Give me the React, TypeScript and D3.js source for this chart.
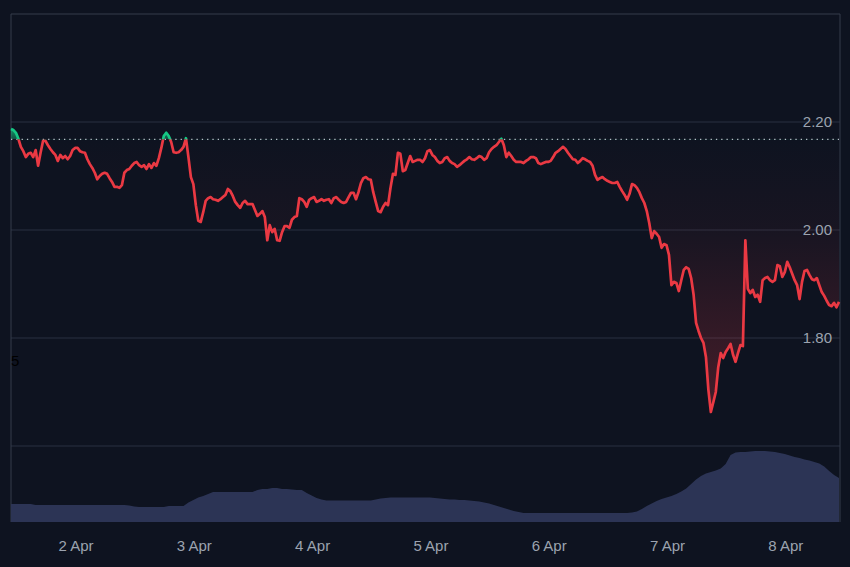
import React from "react";
import * as d3 from "d3";

// price sampled every 30 min, volume every hour; both start 1 Apr 10:48 UTC
const START_UTC = Date.UTC(2025, 3, 1, 10, 48);
const PRICE_STEP_MS = 30 * 60 * 1000;
const VOLUME_STEP_MS = 60 * 60 * 1000;

const prices: number[] = [
  2.187, 2.185, 2.180, 2.169, 2.154, 2.146, 2.135, 2.141, 2.143, 2.135,
  2.148, 2.119, 2.143, 2.165, 2.165, 2.157, 2.150, 2.144, 2.139, 2.128,
  2.139, 2.133, 2.137, 2.131, 2.137, 2.148, 2.152, 2.152, 2.146, 2.144,
  2.143, 2.131, 2.122, 2.115, 2.106, 2.094, 2.100, 2.104, 2.106, 2.104,
  2.096, 2.089, 2.080, 2.080, 2.078, 2.083, 2.106, 2.111, 2.113, 2.119,
  2.124, 2.126, 2.120, 2.117, 2.120, 2.113, 2.122, 2.115, 2.124, 2.119,
  2.133, 2.152, 2.174, 2.180, 2.174, 2.163, 2.144, 2.143, 2.144, 2.148,
  2.154, 2.170, 2.135, 2.098, 2.085, 2.046, 2.017, 2.015, 2.033, 2.054,
  2.059, 2.061, 2.057, 2.056, 2.054, 2.057, 2.061, 2.065, 2.076, 2.072,
  2.063, 2.052, 2.046, 2.041, 2.050, 2.054, 2.048, 2.048, 2.048, 2.037,
  2.026, 2.030, 2.035, 2.024, 1.981, 2.009, 1.996, 2.002, 1.981, 1.980,
  1.996, 2.007, 2.007, 2.004, 2.019, 2.024, 2.026, 2.059, 2.057, 2.052,
  2.043, 2.056, 2.059, 2.061, 2.052, 2.054, 2.057, 2.054, 2.056, 2.057,
  2.050, 2.059, 2.061, 2.056, 2.052, 2.050, 2.052, 2.061, 2.069, 2.069,
  2.057, 2.070, 2.087, 2.096, 2.098, 2.094, 2.093, 2.070, 2.052, 2.035,
  2.033, 2.043, 2.050, 2.046, 2.078, 2.104, 2.102, 2.143, 2.141, 2.109,
  2.111, 2.124, 2.137, 2.126, 2.128, 2.130, 2.130, 2.126, 2.133, 2.146,
  2.148, 2.139, 2.135, 2.128, 2.124, 2.126, 2.133, 2.135, 2.128, 2.124,
  2.122, 2.117, 2.120, 2.124, 2.128, 2.131, 2.135, 2.131, 2.130, 2.133,
  2.137, 2.135, 2.130, 2.133, 2.144, 2.150, 2.154, 2.157, 2.163, 2.169,
  2.157, 2.135, 2.143, 2.137, 2.130, 2.126, 2.126, 2.126, 2.124, 2.128,
  2.131, 2.135, 2.135, 2.133, 2.124, 2.122, 2.124, 2.126, 2.126, 2.128,
  2.135, 2.143, 2.146, 2.150, 2.154, 2.150, 2.143, 2.137, 2.131, 2.130,
  2.124, 2.128, 2.133, 2.131, 2.128, 2.126, 2.119, 2.102, 2.093, 2.096,
  2.098, 2.094, 2.091, 2.089, 2.087, 2.087, 2.089, 2.080, 2.072, 2.065,
  2.056, 2.067, 2.085, 2.083, 2.078, 2.070, 2.059, 2.050, 2.035, 2.013,
  1.985, 1.998, 1.993, 1.987, 1.967, 1.974, 1.972, 1.954, 1.898, 1.904,
  1.902, 1.887, 1.907, 1.926, 1.931, 1.928, 1.911, 1.880, 1.828, 1.813,
  1.800, 1.791, 1.765, 1.704, 1.663, 1.681, 1.700, 1.746, 1.772, 1.763,
  1.774, 1.781, 1.789, 1.769, 1.756, 1.772, 1.787, 1.785, 1.981, 1.891,
  1.883, 1.889, 1.876, 1.880, 1.867, 1.907, 1.911, 1.913, 1.907, 1.904,
  1.907, 1.935, 1.933, 1.913, 1.922, 1.941, 1.931, 1.919, 1.907, 1.898,
  1.872, 1.904, 1.924, 1.926, 1.917, 1.909, 1.907, 1.911, 1.898, 1.885,
  1.878, 1.869, 1.861, 1.859, 1.865, 1.857, 1.867,
];

const volumes: number[] = [
  18, 18, 18, 18, 18, 17, 17, 17, 17, 17,
  17, 17, 17, 17, 17, 17, 17, 17, 17, 17,
  17, 17, 17, 17, 16.5, 15.5, 15, 15, 15, 15,
  15, 15, 16, 16, 16, 16, 19.5, 22, 24.5, 26,
  28, 30, 30, 30, 30, 30, 30, 30, 30, 30,
  32, 33, 33, 34, 34, 33, 33, 32.5, 32, 32,
  29, 26.5, 24, 22.5, 21.5, 21.5, 21.5, 21.5, 21.5, 21.5,
  21.5, 21.5, 21.5, 21.5, 22.5, 23.5, 24, 24.5, 24.5, 24.5,
  24.5, 24.5, 24.5, 24.5, 24.5, 24.5, 24, 23.5, 23, 22.5,
  22.5, 22, 22, 21.5, 21, 20.5, 19.5, 18.5, 17, 15.5,
  14, 12.5, 11, 10, 9, 9, 9, 9, 9, 9,
  9, 9, 9, 9, 9, 9, 9, 9, 9, 9,
  9, 9, 9, 9, 9, 9, 9.5, 10.5, 13, 16,
  18.5, 21, 23, 24.5, 26, 28, 30.5, 33.5, 38, 42.5,
  46, 48.5, 50, 51.5, 53.5, 58, 67, 69.5, 70, 70,
  70.5, 71, 71, 71, 70.5, 70, 69, 68, 66.5, 65,
  64, 62.5, 61.5, 60, 58.5, 55.5, 51, 47, 44,
];

const BASELINE = 2.168;
const gridTicks = [1.6, 1.8, 2.0, 2.2];
const labelTicks = [1.8, 2.0, 2.2];

const W = 850;
const H = 567;
const BG = "#0e1320";
const RED = "#ea3943";
const GREEN = "#16c784";
const FONT = "'Liberation Sans', Arial, Helvetica, sans-serif";

export default function App() {
  const pTimes = prices.map((_, i) => new Date(START_UTC + i * PRICE_STEP_MS));
  const vTimes = volumes.map((_, i) => new Date(START_UTC + i * VOLUME_STEP_MS));
  const x = d3.scaleUtc().domain([pTimes[0], pTimes[pTimes.length - 1]]).range([11, 839]);
  const y = d3.scaleLinear().domain([1.6, 2.4]).range([446, 14]);
  const yv = d3.scaleLinear().domain([0, 100]).range([522, 422]);
  const yBase = y(BASELINE);

  const pIdx = d3.range(prices.length);
  const vIdx = d3.range(volumes.length);
  const line = d3.line<number>().x((i) => x(pTimes[i])).y((i) => y(prices[i]));
  const fill = d3
    .area<number>()
    .x((i) => x(pTimes[i]))
    .y0(yBase)
    .y1((i) => y(prices[i]));
  const volArea = d3
    .area<number>()
    .x((i) => x(vTimes[i]))
    .y0(yv(0))
    .y1((i) => yv(volumes[i]));

  const days = d3.utcDays(pTimes[0], pTimes[pTimes.length - 1]);
  const fmt = d3.utcFormat("%-d %b");
  const yMin = y(d3.min(prices) as number);
  const yMax = y(d3.max(prices) as number);

  return (
    <svg
      width={W}
      height={H}
      style={{ position: "absolute", left: 0, top: 0, display: "block" }}
    >
      <defs>
        <clipPath id="above">
          <rect x={0} y={0} width={W} height={yBase} />
        </clipPath>
        <clipPath id="below">
          <rect x={0} y={yBase} width={W} height={H - yBase} />
        </clipPath>
        <linearGradient id="redFill" gradientUnits="userSpaceOnUse" x1={0} y1={yBase} x2={0} y2={yMin}>
          <stop offset="0" stopColor={RED} stopOpacity={0} />
          <stop offset="0.35" stopColor={RED} stopOpacity={0.05} />
          <stop offset="1" stopColor={RED} stopOpacity={0.26} />
        </linearGradient>
        <linearGradient id="greenFill" gradientUnits="userSpaceOnUse" x1={0} y1={yBase} x2={0} y2={yMax}>
          <stop offset="0" stopColor={GREEN} stopOpacity={0.35} />
          <stop offset="1" stopColor={GREEN} stopOpacity={0.7} />
        </linearGradient>
      </defs>
      <rect x={0} y={0} width={W} height={H} fill={BG} />

      {gridTicks.map((t) => (
        <line key={t} x1={11} x2={840} y1={y(t)} y2={y(t)} stroke="#283040" strokeWidth={1} />
      ))}
      <line x1={11} x2={840} y1={14} y2={14} stroke="#343c4b" strokeWidth={1} />
      <line x1={11} x2={11} y1={14} y2={522} stroke="#343c4b" strokeWidth={1} />
      <line x1={840} x2={840} y1={14} y2={522} stroke="#343c4b" strokeWidth={1} />

      <path d={volArea(vIdx) ?? ""} fill="#2c3455" />

      <path d={fill(pIdx) ?? ""} fill="url(#redFill)" clipPath="url(#below)" />
      <path d={fill(pIdx) ?? ""} fill="url(#greenFill)" clipPath="url(#above)" />

      <line
        x1={11}
        x2={839}
        y1={yBase}
        y2={yBase}
        stroke="#b8bec8"
        strokeWidth={1.2}
        strokeDasharray="1.3 4"
      />

      <path
        d={line(pIdx) ?? ""}
        fill="none"
        stroke={RED}
        strokeWidth={2.7}
        strokeLinejoin="round"
        clipPath="url(#below)"
      />
      <path
        d={line(pIdx) ?? ""}
        fill="none"
        stroke={GREEN}
        strokeWidth={2.7}
        strokeLinejoin="round"
        clipPath="url(#above)"
      />

      {labelTicks.map((t) => (
        <text
          key={t}
          x={832}
          y={y(t)}
          dy="0.35em"
          textAnchor="end"
          fontFamily={FONT}
          fontSize={15}
          fill="#9ca3af"
        >
          {t.toFixed(2)}
        </text>
      ))}

      {days.map((d) => (
        <text
          key={d.getTime()}
          x={x(d)}
          y={551}
          textAnchor="middle"
          fontFamily={FONT}
          fontSize={15}
          fill="#9ca3af"
        >
          {fmt(d)}
        </text>
      ))}

      <text x={11} y={366} fontFamily={FONT} fontSize={15} fill="#000000">
        5
      </text>
    </svg>
  );
}
